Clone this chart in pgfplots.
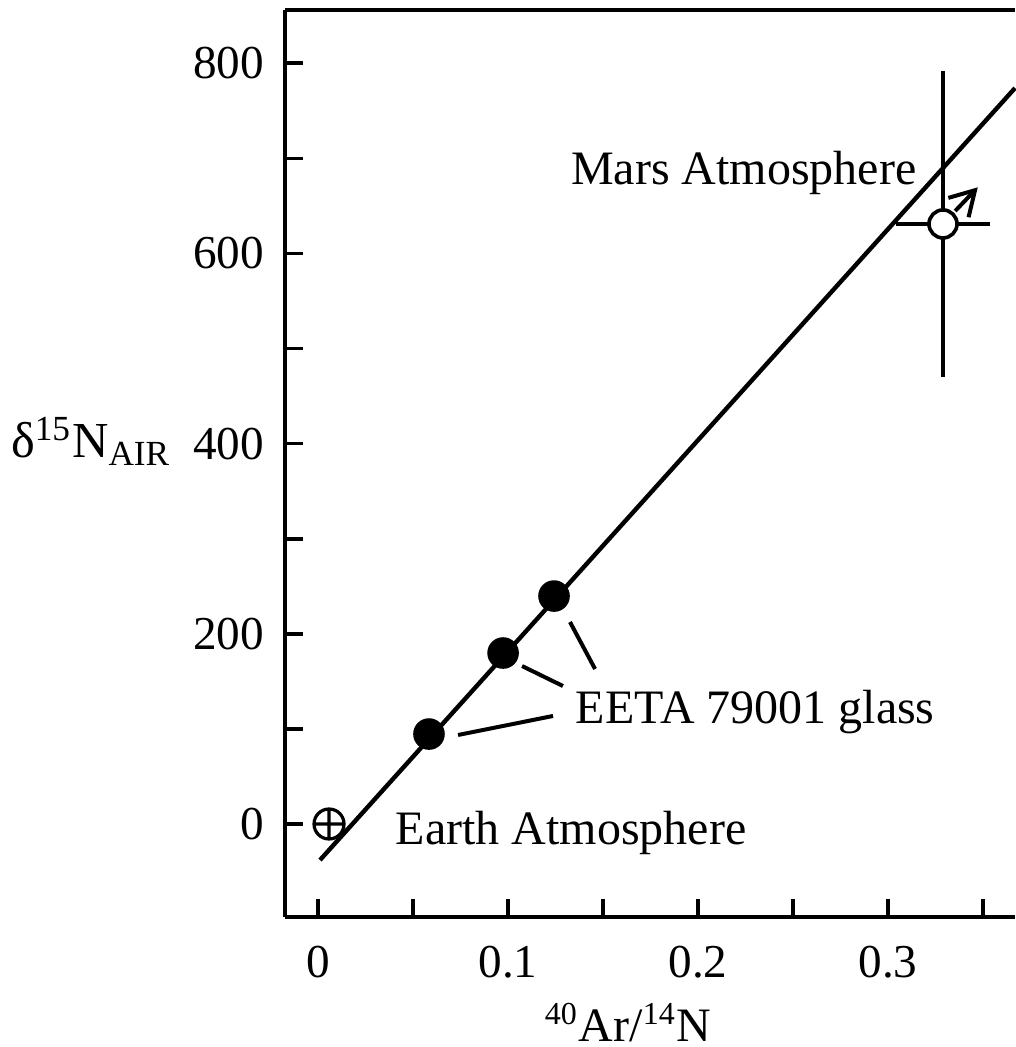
\documentclass[border=0pt]{standalone}
\usepackage{fontspec}
\setmainfont{Liberation Serif}
\usepackage{pgfplots}
\pgfplotsset{compat=1.18}
\usetikzlibrary{arrows.meta,plotmarks}
\begin{document}
\begin{tikzpicture}[font=\fontsize{12}{14.4}\selectfont]
\begin{axis}[
  name=ax,
  scale only axis,
  width=182.5pt, height=226.75pt,
  xmin=-0.01737, xmax=0.3668,
  ymin=-97.8, ymax=856,
  axis x line=box, axis y line=left,
  axis line style={-, line width=1pt},
  every outer x axis line/.append style={-},
  every outer y axis line/.append style={-},
  every inner x axis line/.append style={-},
  every inner y axis line/.append style={-},
  tick align=inside,
  xtick pos=bottom, ytick pos=left,
  xtick={0,0.1,0.2,0.3},
  xticklabels={0,0.1,0.2,0.3},
  minor xtick={0.05,0.15,0.25,0.35},
  ytick={0,200,400,600,800},
  minor ytick={100,300,500,700},
  major tick length=4.5pt, minor tick length=4.5pt,
  tick style={line width=0.9pt, black},
  /pgf/number format/assume math mode=true,
  tick label style={font=\fontsize{11.8}{14}\selectfont},
  yticklabel style={anchor=east, inner sep=0pt, xshift=-5pt},
  xticklabel style={anchor=north, inner sep=0pt, yshift=-7pt},
  clip=false,
]
% fit line
\addplot[black, line width=1.1pt] coordinates {(0.00105,-37.9) (0.3668,773.9)};
% leader lines
\addplot[black, line width=1pt] coordinates {(0.0737,93.6) (0.1237,113.6)};
\addplot[black, line width=1pt] coordinates {(0.1074,166.1) (0.1289,145.1)};
\addplot[black, line width=1pt] coordinates {(0.1326,212.4) (0.1458,163.0)};
% EETA 79001 glass
\addplot[only marks, mark=*, mark size=3.75pt, black] coordinates {(0.0584,94.6) (0.0974,179.8) (0.1242,239.7)};
% Earth atmosphere
\addplot[only marks, mark=oplus, mark size=3.75pt, black, mark options={line width=0.8pt}] coordinates {(0.0058,0)};
% Mars error bars
\addplot[black, line width=0.9pt, draw=none, mark=none,
  error bars/.cd, x dir=both, x explicit, y dir=both, y explicit,
  error bar style={line width=0.9pt, black}, error mark=none]
  coordinates {(0.3289,631) +- (0.0247,161)};
\addplot[only marks, mark=*, mark size=3.5pt, mark options={fill=white, draw=black, line width=0.9pt}] coordinates {(0.3289,631)};
\draw[line width=1pt, -{Straight Barb[length=6pt,width=7pt]}] (axis cs:0.3353,644.6) -- (axis cs:0.3472,669.5);
% texts
\node[anchor=base east, inner sep=0pt] at (axis cs:0.3153,673) {Mars Atmosphere};
\node[anchor=base west, inner sep=0pt] at (axis cs:0.1353,106) {EETA 79001 glass};
\node[anchor=base west, inner sep=0pt] at (axis cs:0.0405,-22) {Earth Atmosphere};
\node[anchor=base east, inner sep=0pt, font=\fontsize{12.6}{15}\selectfont] at (axis cs:-0.0768,384.9) {δ\textsuperscript{15}N\textsubscript{AIR}};
\node[anchor=base, inner sep=0pt] at (axis cs:0.1632,-229) {\textsuperscript{40}Ar/\textsuperscript{14}N};
\end{axis}
\pgfresetboundingbox
\path[use as bounding box] ([xshift=-71.25pt,yshift=-32.5pt]ax.south west) rectangle ([yshift=2.5pt]ax.north east);
\end{tikzpicture}
\end{document}
